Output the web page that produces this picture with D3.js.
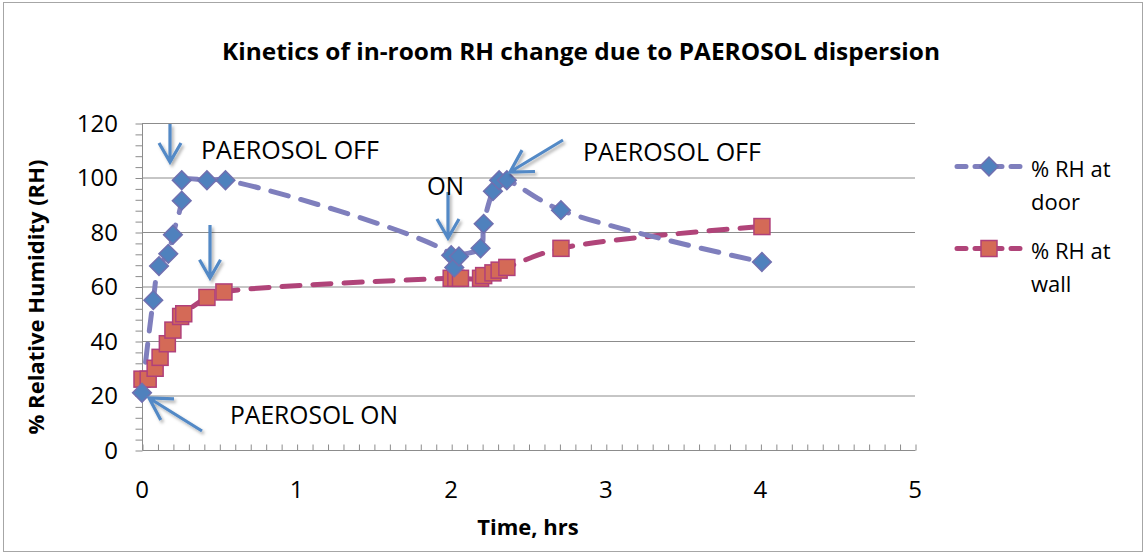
<!DOCTYPE html>
<html><head><meta charset="utf-8">
<script src="https://cdn.jsdelivr.net/npm/d3@7"></script>
<style>body{margin:0;background:#fff}svg{display:block}text{font-family:"Open Sans",sans-serif}</style>
</head><body>
<svg id="c" width="1146" height="555"></svg>
<script>
// ---- data ----
const doorTime = [0, 0.073, 0.11, 0.17, 0.2, 0.257, 0.257, 0.42, 0.54, 2.0, 2.02, 2.05, 2.19, 2.21, 2.27, 2.31, 2.36, 2.71, 4.01];
const doorRH   = [21, 55, 67.5, 72, 79, 91.5, 99, 99, 99, 71.5, 67, 71, 74, 83, 95, 99, 99, 88, 69];
const wallTime = [0, 0.04, 0.085, 0.117, 0.164, 0.2, 0.25, 0.27, 0.42, 0.53, 2.0, 2.03, 2.06, 2.19, 2.21, 2.27, 2.31, 2.36, 2.71, 4.01];
const wallRH   = [26, 26, 30, 34, 39, 44, 49, 50, 56, 58, 63, 63, 63, 63, 64, 65, 66, 67, 74, 82];
const xTicks = [0, 1, 2, 3, 4, 5];
const yTicks = [0, 20, 40, 60, 80, 100, 120];
const seriesNames = ["% RH at door", "% RH at wall"];
const title = "Kinetics of in-room RH change due to PAEROSOL dispersion";

const svg = d3.select("#c");
const x = d3.scaleLinear().domain([0, 5]).range([142, 915]);
const y = d3.scaleLinear().domain([0, 120]).range([450, 123]);

// border
svg.append("rect").attr("x", 3.5).attr("y", 2.5).attr("width", 1139).attr("height", 549)
  .attr("fill", "none").attr("stroke", "#a6a6a6");

// title
svg.append("text").attr("x", 581).attr("y", 60).attr("text-anchor", "middle")
  .attr("font-size", 23).attr("font-weight", "bold").attr("textLength", 718)
  .attr("lengthAdjust", "spacingAndGlyphs").text(title);

// gridlines
svg.append("g").selectAll("line").data(yTicks.filter(d => d > 0)).join("line")
  .attr("x1", x(0)).attr("x2", x(5)).attr("y1", d => y(d) + 0.5).attr("y2", d => y(d) + 0.5)
  .attr("stroke", "#8c8c8c").attr("stroke-width", 1);

// y axis
const yAxis = d3.axisLeft(y).tickValues(d3.range(0, 121, 4)).tickSize(7).tickFormat("");
const gy = svg.append("g").attr("transform", `translate(${x(0) + 0.5},0.5)`).call(yAxis);
gy.selectAll("line,path").attr("stroke", "#8c8c8c");
gy.select(".domain").attr("d", `M0,${y(120)}V${y(0)}`);
svg.append("g").selectAll("text").data(yTicks).join("text")
  .attr("x", 118).attr("y", d => y(d)).attr("dy", "0.36em").attr("text-anchor", "end")
  .attr("font-size", 24).text(d => d);

// x axis (minor ticks inward)
const xAxis = d3.axisTop(x).tickValues(d3.range(0, 50.5, 1).map(d => d / 10)).tickSize(6).tickFormat("");
const gx = svg.append("g").attr("transform", `translate(0.5,${y(0) + 0.5})`).call(xAxis);
gx.selectAll("line,path").attr("stroke", "#8c8c8c");
gx.select(".domain").attr("d", `M${x(0)},0H${x(5)}`);
svg.append("g").selectAll("text").data(xTicks).join("text")
  .attr("x", d => x(d)).attr("y", 498).attr("text-anchor", "middle")
  .attr("font-size", 24).text(d => d);

// axis titles
svg.append("text").attr("x", 528).attr("y", 535).attr("text-anchor", "middle")
  .attr("font-size", 22).attr("font-weight", "bold").text("Time, hrs");
svg.append("text").attr("transform", "translate(36,297) rotate(-90)").attr("text-anchor", "middle")
  .attr("dy", "0.36em").attr("font-size", 22).attr("font-weight", "bold").text("% Relative Humidity (RH)");

// styles
const doorLine = "#7f7fbd", doorFill = "#4f81bd", doorEdge = "#7070b0";
const wallLine = "#b04479", wallFill = "#d46a57", wallEdge = "#b0407a";
const dash = "18 13";

const line = d3.line().x(d => x(d[0])).y(d => y(d[1])).curve(d3.curveCatmullRom.alpha(0.5));
const doorData = doorTime.map((t, i) => [t, doorRH[i]]);
const wallData = wallTime.map((t, i) => [t, wallRH[i]]);

svg.append("path").datum(wallData).attr("d", line).attr("fill", "none")
  .attr("stroke", wallLine).attr("stroke-width", 5).attr("stroke-dasharray", dash).attr("stroke-linecap", "round");
svg.append("path").datum(doorData).attr("d", line).attr("fill", "none")
  .attr("stroke", doorLine).attr("stroke-width", 5).attr("stroke-dasharray", dash).attr("stroke-linecap", "round");

const diamond = d3.symbol().type(d3.symbolSquare).size(175);
function drawDiamond(g, cx, cy) {
  g.append("path").attr("d", diamond()).attr("transform", `translate(${cx},${cy}) rotate(45)`)
    .attr("fill", doorFill).attr("stroke", doorEdge).attr("stroke-width", 1.5);
}
function drawSquare(g, cx, cy) {
  g.append("rect").attr("x", cx - 8).attr("y", cy - 8).attr("width", 16).attr("height", 16)
    .attr("fill", wallFill).attr("stroke", wallEdge).attr("stroke-width", 1.5);
}
const gw = svg.append("g");
wallData.forEach(d => drawSquare(gw, x(d[0]), y(d[1])));
const gd = svg.append("g");
doorData.forEach(d => drawDiamond(gd, x(d[0]), y(d[1])));

// legend
const lg = svg.append("g");
lg.append("line").attr("x1", 957).attr("x2", 1024).attr("y1", 166.5).attr("y2", 166.5)
  .attr("stroke", doorLine).attr("stroke-width", 5).attr("stroke-dasharray", "9 9").attr("stroke-linecap", "round");
drawDiamond(lg, 989, 166.5);
lg.append("line").attr("x1", 957).attr("x2", 1024).attr("y1", 248.5).attr("y2", 248.5)
  .attr("stroke", wallLine).attr("stroke-width", 5).attr("stroke-dasharray", "9 9").attr("stroke-linecap", "round");
drawSquare(lg, 989, 248.5);
[["% RH at", 177], ["door", 210], ["% RH at", 259], ["wall", 292]].forEach(([t, yy]) =>
  lg.append("text").attr("x", 1031).attr("y", yy).attr("font-size", 22).text(t));

// annotations
const defs = svg.append("defs");
const f = defs.append("filter").attr("id", "sh").attr("x", "-50%").attr("y", "-50%").attr("width", "200%").attr("height", "200%");
f.append("feDropShadow").attr("dx", 2).attr("dy", 2.5).attr("stdDeviation", 1.5)
  .attr("flood-color", "#000").attr("flood-opacity", 0.3);
const arrowColor = "#5289c6";
function arrow(x1, y1, x2, y2, wing) {
  const a = Math.atan2(y1 - y2, x1 - x2), w = wing || 22, h = Math.PI / 6;
  const p = d3.path();
  p.moveTo(x1, y1); p.lineTo(x2, y2);
  p.moveTo(x2 + w * Math.cos(a + h), y2 + w * Math.sin(a + h));
  p.lineTo(x2, y2);
  p.lineTo(x2 + w * Math.cos(a - h), y2 + w * Math.sin(a - h));
  svg.append("path").attr("d", p.toString()).attr("fill", "none").attr("stroke", arrowColor)
    .attr("stroke-width", 3.2).attr("stroke-linejoin", "miter").attr("filter", "url(#sh)");
}
arrow(170, 124, 170, 162, 22);
arrow(210, 225, 210, 278, 21);
arrow(202, 431, 149, 398, 25);
arrow(448, 192, 448, 238, 22);
arrow(563, 140, 510, 172, 25);

const notes = [["PAEROSOL OFF", 201, 159, 178], ["PAEROSOL ON", 230, 424, 168], ["ON", 427, 195, 37], ["PAEROSOL OFF", 583, 161, 178]];
notes.forEach(([t, xx, yy, w]) => svg.append("text").attr("x", xx).attr("y", yy).attr("font-size", 25)
  .attr("textLength", w).attr("lengthAdjust", "spacingAndGlyphs").text(t));
</script>
</body></html>
